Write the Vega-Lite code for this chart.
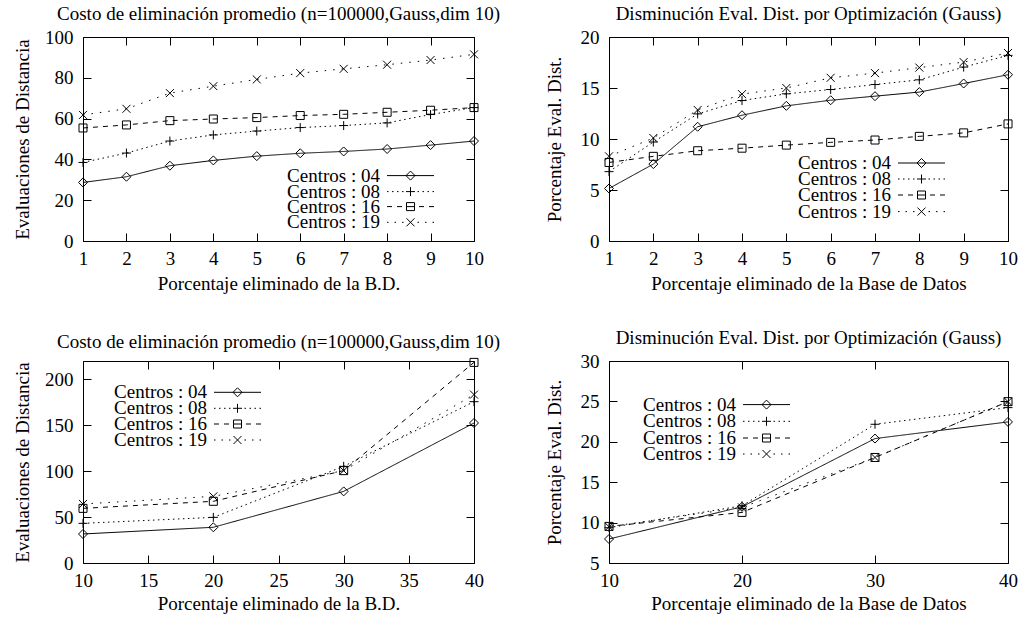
{
  "$schema": "https://vega.github.io/schema/vega-lite/v6.json",
  "padding": {"left": 12, "top": 4, "right": 0, "bottom": 0},
  "columns": 2,
  "spacing": {"row": 120, "column": 135},
  "bounds": "flush",
  "align": "each",
  "resolve": {"scale": {"shape": "independent", "strokeDash": "independent", "x": "independent", "y": "independent"}, "legend": {"shape": "independent", "strokeDash": "independent"}},
  "datasets": {
    "p1": [
      {"x": 1, "y": 28.7, "s": "Centros : 04"}, {"x": 2, "y": 31.5, "s": "Centros : 04"}, {"x": 3, "y": 36.9, "s": "Centros : 04"}, {"x": 4, "y": 39.5, "s": "Centros : 04"}, {"x": 5, "y": 41.6, "s": "Centros : 04"}, {"x": 6, "y": 43.0, "s": "Centros : 04"}, {"x": 7, "y": 43.9, "s": "Centros : 04"}, {"x": 8, "y": 45.1, "s": "Centros : 04"}, {"x": 9, "y": 47.0, "s": "Centros : 04"}, {"x": 10, "y": 49.0, "s": "Centros : 04"},
      {"x": 1, "y": 38.5, "s": "Centros : 08"}, {"x": 2, "y": 43.1, "s": "Centros : 08"}, {"x": 3, "y": 49.0, "s": "Centros : 08"}, {"x": 4, "y": 52.0, "s": "Centros : 08"}, {"x": 5, "y": 53.9, "s": "Centros : 08"}, {"x": 6, "y": 55.6, "s": "Centros : 08"}, {"x": 7, "y": 56.6, "s": "Centros : 08"}, {"x": 8, "y": 57.9, "s": "Centros : 08"}, {"x": 9, "y": 62.0, "s": "Centros : 08"}, {"x": 10, "y": 65.4, "s": "Centros : 08"},
      {"x": 1, "y": 55.4, "s": "Centros : 16"}, {"x": 2, "y": 56.9, "s": "Centros : 16"}, {"x": 3, "y": 59.0, "s": "Centros : 16"}, {"x": 4, "y": 59.8, "s": "Centros : 16"}, {"x": 5, "y": 60.5, "s": "Centros : 16"}, {"x": 6, "y": 61.5, "s": "Centros : 16"}, {"x": 7, "y": 62.1, "s": "Centros : 16"}, {"x": 8, "y": 63.1, "s": "Centros : 16"}, {"x": 9, "y": 64.1, "s": "Centros : 16"}, {"x": 10, "y": 65.4, "s": "Centros : 16"},
      {"x": 1, "y": 61.8, "s": "Centros : 19"}, {"x": 2, "y": 64.8, "s": "Centros : 19"}, {"x": 3, "y": 72.5, "s": "Centros : 19"}, {"x": 4, "y": 75.9, "s": "Centros : 19"}, {"x": 5, "y": 79.2, "s": "Centros : 19"}, {"x": 6, "y": 82.3, "s": "Centros : 19"}, {"x": 7, "y": 84.4, "s": "Centros : 19"}, {"x": 8, "y": 86.4, "s": "Centros : 19"}, {"x": 9, "y": 88.7, "s": "Centros : 19"}, {"x": 10, "y": 91.5, "s": "Centros : 19"}
    ],
    "p2": [
      {"x": 1, "y": 5.15, "s": "Centros : 04"}, {"x": 2, "y": 7.54, "s": "Centros : 04"}, {"x": 3, "y": 11.2, "s": "Centros : 04"}, {"x": 4, "y": 12.33, "s": "Centros : 04"}, {"x": 5, "y": 13.25, "s": "Centros : 04"}, {"x": 6, "y": 13.8, "s": "Centros : 04"}, {"x": 7, "y": 14.2, "s": "Centros : 04"}, {"x": 8, "y": 14.6, "s": "Centros : 04"}, {"x": 9, "y": 15.44, "s": "Centros : 04"}, {"x": 10, "y": 16.3, "s": "Centros : 04"},
      {"x": 1, "y": 6.8, "s": "Centros : 08"}, {"x": 2, "y": 9.7, "s": "Centros : 08"}, {"x": 3, "y": 12.46, "s": "Centros : 08"}, {"x": 4, "y": 13.77, "s": "Centros : 08"}, {"x": 5, "y": 14.43, "s": "Centros : 08"}, {"x": 6, "y": 14.85, "s": "Centros : 08"}, {"x": 7, "y": 15.34, "s": "Centros : 08"}, {"x": 8, "y": 15.8, "s": "Centros : 08"}, {"x": 9, "y": 17.05, "s": "Centros : 08"}, {"x": 10, "y": 18.2, "s": "Centros : 08"},
      {"x": 1, "y": 7.7, "s": "Centros : 16"}, {"x": 2, "y": 8.3, "s": "Centros : 16"}, {"x": 3, "y": 8.85, "s": "Centros : 16"}, {"x": 4, "y": 9.1, "s": "Centros : 16"}, {"x": 5, "y": 9.4, "s": "Centros : 16"}, {"x": 6, "y": 9.67, "s": "Centros : 16"}, {"x": 7, "y": 9.9, "s": "Centros : 16"}, {"x": 8, "y": 10.26, "s": "Centros : 16"}, {"x": 9, "y": 10.6, "s": "Centros : 16"}, {"x": 10, "y": 11.48, "s": "Centros : 16"},
      {"x": 1, "y": 8.3, "s": "Centros : 19"}, {"x": 2, "y": 10.1, "s": "Centros : 19"}, {"x": 3, "y": 12.85, "s": "Centros : 19"}, {"x": 4, "y": 14.4, "s": "Centros : 19"}, {"x": 5, "y": 15.0, "s": "Centros : 19"}, {"x": 6, "y": 16.0, "s": "Centros : 19"}, {"x": 7, "y": 16.46, "s": "Centros : 19"}, {"x": 8, "y": 17.0, "s": "Centros : 19"}, {"x": 9, "y": 17.54, "s": "Centros : 19"}, {"x": 10, "y": 18.43, "s": "Centros : 19"}
    ],
    "p3": [
      {"x": 10, "y": 31.6, "s": "Centros : 04"}, {"x": 20, "y": 38.9, "s": "Centros : 04"}, {"x": 30, "y": 78.0, "s": "Centros : 04"}, {"x": 40, "y": 152.5, "s": "Centros : 04"},
      {"x": 10, "y": 43.2, "s": "Centros : 08"}, {"x": 20, "y": 49.7, "s": "Centros : 08"}, {"x": 30, "y": 105.3, "s": "Centros : 08"}, {"x": 40, "y": 175.7, "s": "Centros : 08"},
      {"x": 10, "y": 59.5, "s": "Centros : 16"}, {"x": 20, "y": 67.2, "s": "Centros : 16"}, {"x": 30, "y": 100.6, "s": "Centros : 16"}, {"x": 40, "y": 218.5, "s": "Centros : 16"},
      {"x": 10, "y": 64.3, "s": "Centros : 19"}, {"x": 20, "y": 72.6, "s": "Centros : 19"}, {"x": 30, "y": 100.6, "s": "Centros : 19"}, {"x": 40, "y": 183.4, "s": "Centros : 19"}
    ],
    "p4": [
      {"x": 10, "y": 7.97, "s": "Centros : 04"}, {"x": 20, "y": 11.96, "s": "Centros : 04"}, {"x": 30, "y": 20.4, "s": "Centros : 04"}, {"x": 40, "y": 22.46, "s": "Centros : 04"},
      {"x": 10, "y": 9.37, "s": "Centros : 08"}, {"x": 20, "y": 12.08, "s": "Centros : 08"}, {"x": 30, "y": 22.17, "s": "Centros : 08"}, {"x": 40, "y": 24.23, "s": "Centros : 08"},
      {"x": 10, "y": 9.53, "s": "Centros : 16"}, {"x": 20, "y": 11.26, "s": "Centros : 16"}, {"x": 30, "y": 18.06, "s": "Centros : 16"}, {"x": 40, "y": 24.97, "s": "Centros : 16"},
      {"x": 10, "y": 9.49, "s": "Centros : 19"}, {"x": 20, "y": 11.88, "s": "Centros : 19"}, {"x": 30, "y": 18.06, "s": "Centros : 19"}, {"x": 40, "y": 24.97, "s": "Centros : 19"}
    ]
  },
  "concat": [
    {
      "width": 391, "height": 204,
      "title": {"text": "Costo de eliminación promedio (n=100000,Gauss,dim 10)"},
      "data": {"name": "p1"},
      "resolve": {"axis": {"x": "independent", "y": "independent"}, "scale": {"shape": "independent"}, "legend": {"shape": "independent"}},
      "layer": [
        {
          "mark": {"type": "line", "color": "black", "strokeWidth": 1},
          "encoding": {
            "x": {"field": "x", "type": "quantitative", "scale": {"domain": [1, 10], "nice": false, "zero": false}, "axis": {"orient": "bottom", "values": [1, 2, 3, 4, 5, 6, 7, 8, 9, 10], "title": "Porcentaje eliminado de la B.D.", "titleX": 195.5, "titleY": 48}},
            "y": {"field": "y", "type": "quantitative", "scale": {"domain": [0, 100], "nice": false}, "axis": {"orient": "left", "values": [0, 20, 40, 60, 80, 100], "title": "Evaluaciones de Distancia", "titleX": -55, "titleY": 102}},
            "strokeDash": {"field": "s", "type": "nominal", "scale": {"domain": ["Centros : 19", "Centros : 16", "Centros : 08", "Centros : 04"], "range": [[1.5, 7], [5, 5], [1.5, 3.5], [1, 0]]}, "legend": null}
          }
        },
        {
          "mark": {"type": "point", "filled": false, "color": "black", "strokeWidth": 1, "size": 100, "opacity": 1},
          "encoding": {
            "x": {"field": "x", "type": "quantitative", "axis": {"orient": "top", "labels": false, "title": null, "values": [1, 2, 3, 4, 5, 6, 7, 8, 9, 10]}},
            "y": {"field": "y", "type": "quantitative", "axis": {"orient": "right", "labels": false, "title": null, "values": [0, 20, 40, 60, 80, 100]}},
            "shape": {"field": "s", "type": "nominal", "scale": {"domain": ["Centros : 04", "Centros : 08", "Centros : 16", "Centros : 19"], "range": ["M-0.9,0L0,-0.9L0.9,0L0,0.9Z", "M-0.9,0H0.9M0,-0.9V0.9", "M-0.8,-0.8H0.8V0.8H-0.8Z", "M-0.8,-0.8L0.8,0.8M-0.8,0.8L0.8,-0.8"]}, "legend": null}
          }
        },
        {"transform": [{"filter": "datum.x > 1000"}], "mark": {"type": "point", "filled": false, "color": "black", "strokeWidth": 1, "size": 100},
         "encoding": {"shape": {"field": "s", "type": "nominal", "scale": {"domain": ["Centros : 04"], "range": ["M-4.7,0H4.7M-0.9,0L0,-0.9L0.9,0L0,0.9Z"]}, "legend": {"title": null, "orient": "none", "legendX": 304, "legendY": 129.1, "symbolSize": 100, "symbolOpacity": 1}}}},
        {"transform": [{"filter": "datum.x > 1000"}], "mark": {"type": "point", "filled": false, "color": "black", "strokeWidth": 1, "size": 100},
         "encoding": {"shape": {"field": "s", "type": "nominal", "scale": {"domain": ["Centros : 08"], "range": ["M-4.7,0h0.3M-3.7,0h0.3M-2.7,0h0.3M-1.7,0h0.3M1.4,0h0.3M2.4,0h0.3M3.4,0h0.3M4.4,0h0.3M-0.9,0H0.9M0,-0.9V0.9"]}, "legend": {"title": null, "orient": "none", "legendX": 304, "legendY": 145.1, "symbolSize": 100, "symbolOpacity": 1}}}},
        {"transform": [{"filter": "datum.x > 1000"}], "mark": {"type": "point", "filled": false, "color": "black", "strokeWidth": 1, "size": 100},
         "encoding": {"shape": {"field": "s", "type": "nominal", "scale": {"domain": ["Centros : 16"], "range": ["M-4.7,0H-3.7M-2.7,0H-1.7M-0.8,0H0.8M1.7,0H2.7M3.7,0H4.7M-0.8,-0.8H0.8V0.8H-0.8Z"]}, "legend": {"title": null, "orient": "none", "legendX": 304, "legendY": 160.1, "symbolSize": 100, "symbolOpacity": 1}}}},
        {"transform": [{"filter": "datum.x > 1000"}], "mark": {"type": "point", "filled": false, "color": "black", "strokeWidth": 1, "size": 100},
         "encoding": {"shape": {"field": "s", "type": "nominal", "scale": {"domain": ["Centros : 19"], "range": ["M-4.7,0h0.3M-3.2,0h0.3M-1.7,0h0.3M1.4,0h0.3M2.9,0h0.3M4.4,0h0.3M-0.8,-0.8L0.8,0.8M-0.8,0.8L0.8,-0.8"]}, "legend": {"title": null, "orient": "none", "legendX": 304, "legendY": 175.8, "symbolSize": 100, "symbolOpacity": 1}}}}
      ]
    },
    {
      "width": 399, "height": 204,
      "title": {"text": "Disminución Eval. Dist. por Optimización (Gauss)"},
      "data": {"name": "p2"},
      "resolve": {"axis": {"x": "independent", "y": "independent"}, "scale": {"shape": "independent"}, "legend": {"shape": "independent"}},
      "layer": [
        {
          "mark": {"type": "line", "color": "black", "strokeWidth": 1},
          "encoding": {
            "x": {"field": "x", "type": "quantitative", "scale": {"domain": [1, 10], "nice": false, "zero": false}, "axis": {"orient": "bottom", "values": [1, 2, 3, 4, 5, 6, 7, 8, 9, 10], "title": "Porcentaje eliminado de la Base de Datos", "titleX": 199.5, "titleY": 48}},
            "y": {"field": "y", "type": "quantitative", "scale": {"domain": [0, 20], "nice": false}, "axis": {"orient": "left", "values": [0, 5, 10, 15, 20], "title": "Porcentaje Eval. Dist.", "titleX": -49, "titleY": 102}},
            "strokeDash": {"field": "s", "type": "nominal", "scale": {"domain": ["Centros : 19", "Centros : 16", "Centros : 08", "Centros : 04"], "range": [[1.5, 7], [5, 5], [1.5, 3.5], [1, 0]]}, "legend": null}
          }
        },
        {
          "mark": {"type": "point", "filled": false, "color": "black", "strokeWidth": 1, "size": 100, "opacity": 1},
          "encoding": {
            "x": {"field": "x", "type": "quantitative", "axis": {"orient": "top", "labels": false, "title": null, "values": [1, 2, 3, 4, 5, 6, 7, 8, 9, 10]}},
            "y": {"field": "y", "type": "quantitative", "axis": {"orient": "right", "labels": false, "title": null, "values": [0, 5, 10, 15, 20]}},
            "shape": {"field": "s", "type": "nominal", "scale": {"domain": ["Centros : 04", "Centros : 08", "Centros : 16", "Centros : 19"], "range": ["M-0.9,0L0,-0.9L0.9,0L0,0.9Z", "M-0.9,0H0.9M0,-0.9V0.9", "M-0.8,-0.8H0.8V0.8H-0.8Z", "M-0.8,-0.8L0.8,0.8M-0.8,0.8L0.8,-0.8"]}, "legend": null}
          }
        },
        {"transform": [{"filter": "datum.x > 1000"}], "mark": {"type": "point", "filled": false, "color": "black", "strokeWidth": 1, "size": 100},
         "encoding": {"shape": {"field": "s", "type": "nominal", "scale": {"domain": ["Centros : 04"], "range": ["M-4.7,0H4.7M-0.9,0L0,-0.9L0.9,0L0,0.9Z"]}, "legend": {"title": null, "orient": "none", "legendX": 289, "legendY": 116.5, "symbolSize": 100, "symbolOpacity": 1}}}},
        {"transform": [{"filter": "datum.x > 1000"}], "mark": {"type": "point", "filled": false, "color": "black", "strokeWidth": 1, "size": 100},
         "encoding": {"shape": {"field": "s", "type": "nominal", "scale": {"domain": ["Centros : 08"], "range": ["M-4.7,0h0.3M-3.7,0h0.3M-2.7,0h0.3M-1.7,0h0.3M1.4,0h0.3M2.4,0h0.3M3.4,0h0.3M4.4,0h0.3M-0.9,0H0.9M0,-0.9V0.9"]}, "legend": {"title": null, "orient": "none", "legendX": 289, "legendY": 132.5, "symbolSize": 100, "symbolOpacity": 1}}}},
        {"transform": [{"filter": "datum.x > 1000"}], "mark": {"type": "point", "filled": false, "color": "black", "strokeWidth": 1, "size": 100},
         "encoding": {"shape": {"field": "s", "type": "nominal", "scale": {"domain": ["Centros : 16"], "range": ["M-4.7,0H-3.7M-2.7,0H-1.7M-0.8,0H0.8M1.7,0H2.7M3.7,0H4.7M-0.8,-0.8H0.8V0.8H-0.8Z"]}, "legend": {"title": null, "orient": "none", "legendX": 289, "legendY": 148.5, "symbolSize": 100, "symbolOpacity": 1}}}},
        {"transform": [{"filter": "datum.x > 1000"}], "mark": {"type": "point", "filled": false, "color": "black", "strokeWidth": 1, "size": 100},
         "encoding": {"shape": {"field": "s", "type": "nominal", "scale": {"domain": ["Centros : 19"], "range": ["M-4.7,0h0.3M-3.2,0h0.3M-1.7,0h0.3M1.4,0h0.3M2.9,0h0.3M4.4,0h0.3M-0.8,-0.8L0.8,0.8M-0.8,0.8L0.8,-0.8"]}, "legend": {"title": null, "orient": "none", "legendX": 289, "legendY": 165.1, "symbolSize": 100, "symbolOpacity": 1}}}}
      ]
    },
    {
      "width": 391, "height": 202,
      "title": {"text": "Costo de eliminación promedio (n=100000,Gauss,dim 10)"},
      "data": {"name": "p3"},
      "resolve": {"axis": {"x": "independent", "y": "independent"}, "scale": {"shape": "independent"}, "legend": {"shape": "independent"}},
      "layer": [
        {
          "mark": {"type": "line", "color": "black", "strokeWidth": 1},
          "encoding": {
            "x": {"field": "x", "type": "quantitative", "scale": {"domain": [10, 40], "nice": false, "zero": false}, "axis": {"orient": "bottom", "values": [10, 15, 20, 25, 30, 35, 40], "title": "Porcentaje eliminado de la B.D.", "titleX": 195.5, "titleY": 46}},
            "y": {"field": "y", "type": "quantitative", "scale": {"domain": [0, 220], "nice": false}, "axis": {"orient": "left", "values": [0, 50, 100, 150, 200], "title": "Evaluaciones de Distancia", "titleX": -55, "titleY": 101}},
            "strokeDash": {"field": "s", "type": "nominal", "scale": {"domain": ["Centros : 19", "Centros : 16", "Centros : 08", "Centros : 04"], "range": [[1.5, 7], [5, 5], [1.5, 3.5], [1, 0]]}, "legend": null}
          }
        },
        {
          "mark": {"type": "point", "filled": false, "color": "black", "strokeWidth": 1, "size": 100, "opacity": 1},
          "encoding": {
            "x": {"field": "x", "type": "quantitative", "axis": {"orient": "top", "labels": false, "title": null, "values": [10, 15, 20, 25, 30, 35, 40]}},
            "y": {"field": "y", "type": "quantitative", "axis": {"orient": "right", "labels": false, "title": null, "values": [0, 50, 100, 150, 200]}},
            "shape": {"field": "s", "type": "nominal", "scale": {"domain": ["Centros : 04", "Centros : 08", "Centros : 16", "Centros : 19"], "range": ["M-0.9,0L0,-0.9L0.9,0L0,0.9Z", "M-0.9,0H0.9M0,-0.9V0.9", "M-0.8,-0.8H0.8V0.8H-0.8Z", "M-0.8,-0.8L0.8,0.8M-0.8,0.8L0.8,-0.8"]}, "legend": null}
          }
        },
        {"transform": [{"filter": "datum.x > 1000"}], "mark": {"type": "point", "filled": false, "color": "black", "strokeWidth": 1, "size": 100},
         "encoding": {"shape": {"field": "s", "type": "nominal", "scale": {"domain": ["Centros : 04"], "range": ["M-4.7,0H4.7M-0.9,0L0,-0.9L0.9,0L0,0.9Z"]}, "legend": {"title": null, "orient": "none", "legendX": 131, "legendY": 21.8, "symbolSize": 100, "symbolOpacity": 1}}}},
        {"transform": [{"filter": "datum.x > 1000"}], "mark": {"type": "point", "filled": false, "color": "black", "strokeWidth": 1, "size": 100},
         "encoding": {"shape": {"field": "s", "type": "nominal", "scale": {"domain": ["Centros : 08"], "range": ["M-4.7,0h0.3M-3.7,0h0.3M-2.7,0h0.3M-1.7,0h0.3M1.4,0h0.3M2.4,0h0.3M3.4,0h0.3M4.4,0h0.3M-0.9,0H0.9M0,-0.9V0.9"]}, "legend": {"title": null, "orient": "none", "legendX": 131, "legendY": 37.8, "symbolSize": 100, "symbolOpacity": 1}}}},
        {"transform": [{"filter": "datum.x > 1000"}], "mark": {"type": "point", "filled": false, "color": "black", "strokeWidth": 1, "size": 100},
         "encoding": {"shape": {"field": "s", "type": "nominal", "scale": {"domain": ["Centros : 16"], "range": ["M-4.7,0H-3.7M-2.7,0H-1.7M-0.8,0H0.8M1.7,0H2.7M3.7,0H4.7M-0.8,-0.8H0.8V0.8H-0.8Z"]}, "legend": {"title": null, "orient": "none", "legendX": 131, "legendY": 53.5, "symbolSize": 100, "symbolOpacity": 1}}}},
        {"transform": [{"filter": "datum.x > 1000"}], "mark": {"type": "point", "filled": false, "color": "black", "strokeWidth": 1, "size": 100},
         "encoding": {"shape": {"field": "s", "type": "nominal", "scale": {"domain": ["Centros : 19"], "range": ["M-4.7,0h0.3M-3.2,0h0.3M-1.7,0h0.3M1.4,0h0.3M2.9,0h0.3M4.4,0h0.3M-0.8,-0.8L0.8,0.8M-0.8,0.8L0.8,-0.8"]}, "legend": {"title": null, "orient": "none", "legendX": 131, "legendY": 69.5, "symbolSize": 100, "symbolOpacity": 1}}}}
      ]
    },
    {
      "width": 399, "height": 202,
      "title": {"text": "Disminución Eval. Dist. por Optimización (Gauss)"},
      "data": {"name": "p4"},
      "resolve": {"axis": {"x": "independent", "y": "independent"}, "scale": {"shape": "independent"}, "legend": {"shape": "independent"}},
      "layer": [
        {
          "mark": {"type": "line", "color": "black", "strokeWidth": 1},
          "encoding": {
            "x": {"field": "x", "type": "quantitative", "scale": {"domain": [10, 40], "nice": false, "zero": false}, "axis": {"orient": "bottom", "values": [10, 20, 30, 40], "title": "Porcentaje eliminado de la Base de Datos", "titleX": 199.5, "titleY": 46}},
            "y": {"field": "y", "type": "quantitative", "scale": {"domain": [5, 30], "nice": false, "zero": false}, "axis": {"orient": "left", "values": [5, 10, 15, 20, 25, 30], "title": "Porcentaje Eval. Dist.", "titleX": -49, "titleY": 101}},
            "strokeDash": {"field": "s", "type": "nominal", "scale": {"domain": ["Centros : 19", "Centros : 16", "Centros : 08", "Centros : 04"], "range": [[1.5, 7], [5, 5], [1.5, 3.5], [1, 0]]}, "legend": null}
          }
        },
        {
          "mark": {"type": "point", "filled": false, "color": "black", "strokeWidth": 1, "size": 100, "opacity": 1},
          "encoding": {
            "x": {"field": "x", "type": "quantitative", "axis": {"orient": "top", "labels": false, "title": null, "values": [10, 20, 30, 40]}},
            "y": {"field": "y", "type": "quantitative", "axis": {"orient": "right", "labels": false, "title": null, "values": [5, 10, 15, 20, 25, 30]}},
            "shape": {"field": "s", "type": "nominal", "scale": {"domain": ["Centros : 04", "Centros : 08", "Centros : 16", "Centros : 19"], "range": ["M-0.9,0L0,-0.9L0.9,0L0,0.9Z", "M-0.9,0H0.9M0,-0.9V0.9", "M-0.8,-0.8H0.8V0.8H-0.8Z", "M-0.8,-0.8L0.8,0.8M-0.8,0.8L0.8,-0.8"]}, "legend": null}
          }
        },
        {"transform": [{"filter": "datum.x > 1000"}], "mark": {"type": "point", "filled": false, "color": "black", "strokeWidth": 1, "size": 100},
         "encoding": {"shape": {"field": "s", "type": "nominal", "scale": {"domain": ["Centros : 04"], "range": ["M-4.7,0H4.7M-0.9,0L0,-0.9L0.9,0L0,0.9Z"]}, "legend": {"title": null, "orient": "none", "legendX": 134, "legendY": 34.1, "symbolSize": 100, "symbolOpacity": 1}}}},
        {"transform": [{"filter": "datum.x > 1000"}], "mark": {"type": "point", "filled": false, "color": "black", "strokeWidth": 1, "size": 100},
         "encoding": {"shape": {"field": "s", "type": "nominal", "scale": {"domain": ["Centros : 08"], "range": ["M-4.7,0h0.3M-3.7,0h0.3M-2.7,0h0.3M-1.7,0h0.3M1.4,0h0.3M2.4,0h0.3M3.4,0h0.3M4.4,0h0.3M-0.9,0H0.9M0,-0.9V0.9"]}, "legend": {"title": null, "orient": "none", "legendX": 134, "legendY": 50.8, "symbolSize": 100, "symbolOpacity": 1}}}},
        {"transform": [{"filter": "datum.x > 1000"}], "mark": {"type": "point", "filled": false, "color": "black", "strokeWidth": 1, "size": 100},
         "encoding": {"shape": {"field": "s", "type": "nominal", "scale": {"domain": ["Centros : 16"], "range": ["M-4.7,0H-3.7M-2.7,0H-1.7M-0.8,0H0.8M1.7,0H2.7M3.7,0H4.7M-0.8,-0.8H0.8V0.8H-0.8Z"]}, "legend": {"title": null, "orient": "none", "legendX": 134, "legendY": 67.5, "symbolSize": 100, "symbolOpacity": 1}}}},
        {"transform": [{"filter": "datum.x > 1000"}], "mark": {"type": "point", "filled": false, "color": "black", "strokeWidth": 1, "size": 100},
         "encoding": {"shape": {"field": "s", "type": "nominal", "scale": {"domain": ["Centros : 19"], "range": ["M-4.7,0h0.3M-3.2,0h0.3M-1.7,0h0.3M1.4,0h0.3M2.9,0h0.3M4.4,0h0.3M-0.8,-0.8L0.8,0.8M-0.8,0.8L0.8,-0.8"]}, "legend": {"title": null, "orient": "none", "legendX": 134, "legendY": 83.5, "symbolSize": 100, "symbolOpacity": 1}}}}
      ]
    }
  ],
  "config": {
    "font": "Liberation Serif",
    "background": "white",
    "view": {"stroke": "black", "strokeWidth": 1},
    "axis": {"grid": false, "domain": false, "labelFont": "Liberation Serif", "titleFont": "Liberation Serif", "labelFontSize": 19, "titleFontSize": 19, "titleFontWeight": "normal", "labelColor": "black", "titleColor": "black", "tickColor": "black", "tickSize": -8, "tickWidth": 1, "labelFlush": false, "labelOverlap": false, "titleBaseline": "alphabetic", "titleAlign": "center"},
    "axisX": {"labelPadding": 16},
    "axisY": {"labelPadding": 18},
    "title": {"font": "Liberation Serif", "fontSize": 19, "fontWeight": "normal", "color": "black", "frame": "group", "anchor": "middle", "baseline": "alphabetic", "offset": 4},
    "legend": {"labelFont": "Liberation Serif", "labelFontSize": 19, "labelColor": "black", "labelAlign": "right", "labelOffset": -40, "symbolOffset": 14, "padding": 0, "labelLimit": 0, "symbolStrokeWidth": 1}
  }
}
